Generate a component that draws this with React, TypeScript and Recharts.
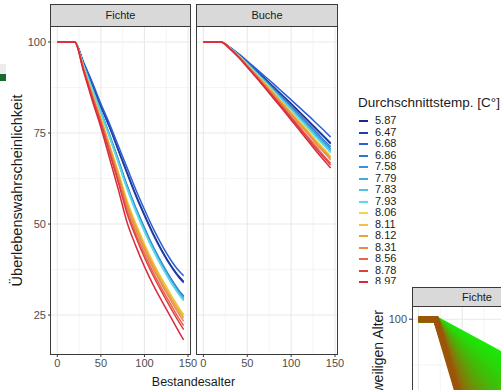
import React from 'react'
import { LineChart, Line, XAxis, YAxis, CartesianGrid } from 'recharts'

// Bestandesalter (Jahre)
const ages = [0, 10, 20, 30, 40, 50, 60, 70, 80, 90, 100, 110, 120, 130, 140, 145]

const temps = ['5.87', '6.47', '6.68', '6.86', '7.58', '7.79', '7.83', '7.93', '8.06', '8.11', '8.12', '8.31', '8.56', '8.78', '8.97']
const tempColors = [
  '#1b2a86', '#1f3ea6', '#2b5fd3', '#2f78cf', '#3b92d8', '#44a9dc', '#4fc3e0', '#5ddbe8',
  '#f3d64a', '#f0c23e', '#e4a636', '#eb8a4c', '#e8634a', '#de3f3e', '#d82a3c'
]

// Fichte – Überlebenswahrscheinlichkeit je Temperatur
const fichte587 = [100, 100, 100, 94.3, 88.6, 82.4, 76.7, 70.4, 64.2, 58.1, 52.6, 47.4, 42.8, 38.8, 35.5, 34.2]
const fichte647 = [100, 100, 100, 94.2, 88.5, 82.3, 76.5, 70.2, 63.9, 57.8, 52.3, 47.1, 42.5, 38.5, 35.2, 33.9]
const fichte668 = [100, 100, 100, 94.5, 89, 83, 77.5, 71.5, 65.5, 59.5, 54, 48.8, 44.2, 40.2, 37, 35.8]
const fichte686 = [100, 100, 100, 93.7, 87.4, 80.9, 74.5, 67.7, 60.7, 54.5, 49, 43.8, 39.3, 35.2, 31.6, 30.2]
const fichte758 = [100, 100, 100, 93.6, 87.3, 80.8, 74.3, 67.4, 60.4, 54.2, 48.7, 43.5, 39, 34.9, 31.3, 29.8]
const fichte779 = [100, 100, 100, 93.6, 87.2, 80.7, 74.1, 67.2, 60.1, 53.9, 48.3, 43.2, 38.7, 34.5, 31, 29.5]
const fichte783 = [100, 100, 100, 93.6, 87.1, 80.5, 73.9, 66.9, 59.8, 53.6, 48, 42.9, 38.3, 34.2, 30.6, 29.1]
const fichte793 = [100, 100, 100, 93.5, 87, 80.5, 73.8, 66.8, 59.7, 53.5, 47.9, 42.8, 38.2, 34.1, 30.5, 28.9]
const fichte806 = [100, 100, 100, 93, 86, 79.1, 71.8, 64.3, 56.5, 50.2, 44.6, 39.5, 35, 30.8, 26.9, 25.2]
const fichte811 = [100, 100, 100, 93, 85.9, 79, 71.6, 64.1, 56.2, 49.9, 44.3, 39.2, 34.7, 30.5, 26.6, 24.9]
const fichte812 = [100, 100, 100, 92.9, 85.7, 78.7, 71.2, 63.6, 55.6, 49.3, 43.6, 38.6, 34, 29.8, 25.9, 24.2]
const fichte831 = [100, 100, 100, 92.7, 85.5, 78.4, 70.8, 63, 54.9, 48.5, 42.9, 37.8, 33.3, 29.1, 25.1, 23.3]
const fichte856 = [100, 100, 100, 92.6, 85.1, 77.9, 70.1, 62.1, 53.8, 47.4, 41.8, 36.7, 32.2, 28, 23.9, 22.1]
const fichte878 = [100, 100, 100, 92.4, 84.8, 77.5, 69.5, 61.4, 52.9, 46.5, 40.8, 35.8, 31.3, 27, 22.9, 21]
const fichte897 = [100, 100, 100, 92, 84, 76.5, 68, 59.5, 50.5, 44, 38.3, 33.3, 28.8, 24.5, 20.2, 18.2]

// Buche
const buche587 = [100, 100, 100, 98.5, 96.6, 94.5, 92.2, 90, 87.7, 85.4, 83.1, 80.7, 78.3, 75.9, 73.5, 72.3]
const buche647 = [100, 100, 100, 98.5, 96.6, 94.4, 92.2, 89.9, 87.6, 85.3, 82.9, 80.5, 78.1, 75.7, 73.3, 72]
const buche668 = [100, 100, 100, 98.6, 96.8, 94.8, 92.7, 90.6, 88.5, 86.3, 84.1, 81.9, 79.7, 77.4, 75.1, 73.9]
const buche686 = [100, 100, 100, 98.5, 96.5, 94.3, 91.9, 89.6, 87.2, 84.8, 82.3, 79.9, 77.4, 74.9, 72.4, 71.2]
const buche758 = [100, 100, 100, 98.4, 96.4, 94.1, 91.8, 89.4, 86.9, 84.5, 82, 79.4, 76.9, 74.4, 71.9, 70.6]
const buche779 = [100, 100, 100, 98.4, 96.4, 94, 91.6, 89.2, 86.7, 84.2, 81.7, 79.1, 76.6, 74, 71.5, 70.2]
const buche783 = [100, 100, 100, 98.4, 96.3, 94, 91.6, 89.1, 86.6, 84.1, 81.5, 78.9, 76.4, 73.7, 71.2, 69.9]
const buche793 = [100, 100, 100, 98.4, 96.3, 93.9, 91.5, 89, 86.5, 83.9, 81.3, 78.7, 76.1, 73.4, 70.9, 69.6]
const buche806 = [100, 100, 100, 98.4, 96.2, 93.8, 91.2, 88.7, 86.1, 83.4, 80.7, 78.1, 75.4, 72.6, 70, 68.7]
const buche811 = [100, 100, 100, 98.3, 96.2, 93.7, 91.1, 88.5, 85.9, 83.2, 80.5, 77.8, 75.1, 72.3, 69.7, 68.4]
const buche812 = [100, 100, 100, 98.3, 96.1, 93.6, 91.1, 88.4, 85.8, 83.1, 80.4, 77.6, 74.9, 72.1, 69.5, 68.1]
const buche831 = [100, 100, 100, 98.3, 96.1, 93.5, 90.9, 88.2, 85.5, 82.8, 80, 77.2, 74.5, 71.6, 69, 67.6]
const buche856 = [100, 100, 100, 98.3, 96, 93.4, 90.7, 87.9, 85.1, 82.3, 79.4, 76.5, 73.7, 70.8, 68, 66.7]
const buche878 = [100, 100, 100, 98.2, 95.9, 93.3, 90.5, 87.7, 84.9, 82, 79.1, 76.2, 73.2, 70.3, 67.6, 66.2]
const buche897 = [100, 100, 100, 98.2, 95.8, 93.1, 90.3, 87.4, 84.5, 81.6, 78.6, 75.6, 72.6, 69.6, 66.8, 65.4]

const fichteSeries = [fichte587, fichte647, fichte668, fichte686, fichte758, fichte779, fichte783, fichte793, fichte806, fichte811, fichte812, fichte831, fichte856, fichte878, fichte897]
const bucheSeries = [buche587, buche647, buche668, buche686, buche758, buche779, buche783, buche793, buche806, buche811, buche812, buche831, buche856, buche878, buche897]

const yTicks = [25, 50, 75, 100]
const yMinor = [37.5, 62.5, 87.5]
const xTicks = [0, 50, 100, 150]
const xMinor = [25, 75, 125]

// zweites (überlagertes) Bild unten rechts
const fanAges = [0, 10, 20, 30, 40, 50, 60, 70, 80, 90, 100]
const fan20 = [100, 100, 100, 98.7, 97.4, 96.1, 94.8, 93.5, 92.2, 90.9, 89.6]
const fan19 = [100, 100, 100, 98.5, 97, 95.5, 94, 92.5, 91, 89.5, 88]
const fan18 = [100, 100, 100, 98.3, 96.6, 94.9, 93.2, 91.5, 89.8, 88.1, 86.4]
const fan17 = [100, 100, 100, 98.1, 96.1, 94.2, 92.2, 90.3, 88.3, 86.4, 84.4]
const fan16 = [100, 100, 100, 97.8, 95.6, 93.4, 91.2, 89, 86.8, 84.6, 82.4]
const fan15 = [100, 100, 100, 97.6, 95.2, 92.8, 90.4, 88, 85.6, 83.2, 80.8]
const fan14 = [100, 100, 100, 97.3, 94.6, 91.9, 89.2, 86.5, 83.8, 81.1, 78.4]
const fan13 = [100, 100, 100, 97, 94, 91, 88, 85, 82, 79, 76]
const fan12 = [100, 100, 100, 96.7, 93.4, 90.1, 86.8, 83.5, 80.2, 76.9, 73.6]
const fan11 = [100, 100, 100, 96.4, 92.8, 89.2, 85.6, 82, 78.4, 74.8, 71.2]
const fan10 = [100, 100, 100, 96, 92, 88, 84, 80, 76, 72, 68]
const fan09 = [100, 100, 100, 95.7, 91.3, 87, 82.6, 78.3, 73.9, 69.6, 65.2]
const fan08 = [100, 100, 100, 95.3, 90.6, 85.9, 81.2, 76.5, 71.8, 67.1, 62.4]
const fan07 = [100, 100, 100, 94.9, 89.8, 84.7, 79.6, 74.5, 69.4, 64.3, 59.2]
const fan06 = [100, 100, 100, 94.5, 88.9, 83.4, 77.8, 72.3, 66.7, 61.2, 55.6]
const fan05 = [100, 100, 100, 94, 88, 82, 76, 70, 64, 58, 52]
const fan04 = [100, 100, 100, 93.6, 87.1, 80.7, 74.2, 67.8, 61.3, 54.9, 48.4]
const fan03 = [100, 100, 100, 93, 86, 79, 72, 65, 58, 51, 44]
const fan02 = [100, 100, 100, 92.5, 85, 77.5, 70, 62.5, 55, 47.5, 40]
const fan01 = [100, 100, 100, 91.9, 83.8, 75.7, 67.6, 59.5, 51.4, 43.3, 35.2]
const fanSeries = [fan20, fan19, fan18, fan17, fan16, fan15, fan14, fan13, fan12, fan11, fan10, fan09, fan08, fan07, fan06, fan05, fan04, fan03, fan02, fan01]
const fanColors = [
  '#1ce808', '#20e208', '#24dc08', '#2ad608', '#30cf08', '#36c808', '#3ec008', '#46b808', '#4eb008', '#56a808',
  '#5ea008', '#669808', '#6e9008', '#768808', '#7e8008', '#857808', '#8c7008', '#926808', '#985f08', '#9c5408'
]

function toRows(xs: number[], series: number[][]) {
  return xs.map((age, i) => {
    const row: Record<string, number> = { age }
    series.forEach((s, k) => {
      row['s' + k] = s[i]
    })
    return row
  })
}

const fichteRows = toRows(ages, fichteSeries)
const bucheRows = toRows(ages, bucheSeries)
const fanRows = toRows(fanAges, fanSeries)

const font = '"Liberation Sans", Arial, sans-serif'
const tickStyle = { fontSize: 11, fill: '#4d4d4d', fontFamily: font }
const border = '1px solid #3a3a3a'

function grids() {
  return [
    <CartesianGrid key="minor" stroke="#f1f1f1" strokeWidth={0.7} horizontalValues={yMinor} verticalValues={xMinor} />,
    <CartesianGrid key="major" stroke="#e9e9e9" strokeWidth={1.1} horizontalValues={yTicks} verticalValues={xTicks} />
  ]
}

function Strip({ left, top, width, height, label }: { left: number; top: number; width: number; height: number; label: string }) {
  return (
    <div
      style={{
        position: 'absolute', left, top, width, height, boxSizing: 'border-box',
        background: '#d9d9d9', border, fontSize: 11, color: '#1a1a1a',
        textAlign: 'center', lineHeight: height - 2 + 'px'
      }}
    >
      {label}
    </div>
  )
}

function Frame({ left, top, width, height }: { left: number; top: number; width: number; height: number }) {
  return (
    <div style={{ position: 'absolute', left, top, width, height, boxSizing: 'border-box', border, pointerEvents: 'none' }} />
  )
}

export default function App() {
  return (
    <div
      style={{
        position: 'absolute', left: 0, top: 0, width: 501, height: 390,
        background: '#fff', overflow: 'hidden', fontFamily: font
      }}
    >
      {/* Rest eines Balkens links */}
      <div style={{ position: 'absolute', left: 0, top: 64, width: 6, height: 10, background: '#ececec' }} />
      <div style={{ position: 'absolute', left: 0, top: 74, width: 6, height: 7, background: '#17692f' }} />

      {/* Fichte */}
      <div style={{ position: 'absolute', left: 0, top: 0 }}>
        <LineChart width={205} height={390} data={fichteRows} margin={{ top: 26, right: 15, left: 0, bottom: 16 }}>
          {grids()}
          <XAxis
            dataKey="age" type="number" domain={[-7.25, 152.25]} ticks={xTicks} allowDataOverflow
            height={20} tickSize={3} axisLine={false} tickLine={{ stroke: '#333' }} tick={tickStyle} interval={0}
          />
          <YAxis
            type="number" domain={[14.3, 104.4]} ticks={yTicks} allowDataOverflow width={51}
            tickSize={3} axisLine={false} tickLine={{ stroke: '#333' }} tick={tickStyle} interval={0}
          />
          {temps.map((t, k) => (
            <Line key={t} dataKey={'s' + k} type="monotone" stroke={tempColors[k]} strokeWidth={1.5} dot={false} isAnimationActive={false} />
          ))}
        </LineChart>
      </div>
      <Strip left={50} top={4} width={141} height={23} label="Fichte" />
      <Frame left={50} top={26} width={141} height={329} />

      {/* Buche */}
      <div style={{ position: 'absolute', left: 197, top: 0 }}>
        <LineChart width={155} height={390} data={bucheRows} margin={{ top: 26, right: 15, left: 0, bottom: 16 }}>
          {grids()}
          <XAxis
            dataKey="age" type="number" domain={[-7.25, 152.25]} ticks={xTicks} allowDataOverflow
            height={20} tickSize={3} axisLine={false} tickLine={{ stroke: '#333' }} tick={tickStyle} interval={0}
          />
          <YAxis type="number" domain={[14.3, 104.4]} ticks={yTicks} allowDataOverflow hide />
          {temps.map((t, k) => (
            <Line key={t} dataKey={'s' + k} type="monotone" stroke={tempColors[k]} strokeWidth={1.5} dot={false} isAnimationActive={false} />
          ))}
        </LineChart>
      </div>
      <Strip left={196} top={4} width={142} height={23} label="Buche" />
      <Frame left={196} top={26} width={142} height={329} />

      {/* Achsentitel */}
      <svg width={501} height={390} style={{ position: 'absolute', left: 0, top: 0, pointerEvents: 'none' }}>
        <text
          x={17} y={190.5} transform="rotate(-90 17 190.5)" textAnchor="middle" dominantBaseline="central"
          fontSize={14.5} fill="#1a1a1a" fontFamily={font}
        >
          Überlebenswahrscheinlichkeit
        </text>
        <text x={193.5} y={382} textAnchor="middle" dominantBaseline="central" fontSize={12.5} fill="#1a1a1a" fontFamily={font}>
          Bestandesalter
        </text>
      </svg>

      {/* Legende */}
      <div style={{ position: 'absolute', left: 358, top: 95, fontSize: 13.5, lineHeight: '16px', color: '#1a1a1a', whiteSpace: 'nowrap' }}>
        Durchschnittstemp. [C°]
      </div>
      {temps.map((t, k) => (
        <div key={t} style={{ position: 'absolute', left: 358, top: 115 + k * 11.5, height: 11.5, width: 60 }}>
          <div style={{ position: 'absolute', left: 1, top: 5, width: 9, height: 2, background: tempColors[k] }} />
          <div style={{ position: 'absolute', left: 17, top: 0, fontSize: 11, lineHeight: '11.5px', color: '#1a1a1a' }}>{t}</div>
        </div>
      ))}

      {/* überlagertes zweites Diagramm */}
      <div style={{ position: 'absolute', left: 346, top: 284, width: 155, height: 106, background: '#fff', overflow: 'hidden' }}>
        <div style={{ position: 'absolute', left: 17, top: 22 }}>
          <LineChart width={194} height={330} data={fanRows} margin={{ top: 0, right: 5, left: 0, bottom: 3 }}>
            {grids()}
            <XAxis dataKey="age" type="number" domain={[-7.25, 152.25]} allowDataOverflow hide />
            <YAxis
              type="number" domain={[14.3, 103.6]} ticks={yTicks} allowDataOverflow width={49}
              tickSize={3} axisLine={false} tickLine={{ stroke: '#333' }} tick={tickStyle} interval={0}
            />
            {fanSeries.map((s, k) => (
              <Line key={k} dataKey={'s' + k} type="linear" stroke={fanColors[k]} strokeWidth={6} dot={false} isAnimationActive={false} />
            ))}
          </LineChart>
        </div>
        <Strip left={66} top={3} width={130} height={20} label="Fichte" />
        <Frame left={66} top={22} width={200} height={200} />
        <svg width={155} height={106} style={{ position: 'absolute', left: 0, top: 0, pointerEvents: 'none' }}>
          <text
            x={32} y={26} transform="rotate(-90 32 26)" textAnchor="end" dominantBaseline="central"
            fontSize={14} fill="#1a1a1a" fontFamily={font}
          >
            Überlebenswahrscheinlichkeit bis zum jeweiligen Alter
          </text>
        </svg>
      </div>
    </div>
  )
}
